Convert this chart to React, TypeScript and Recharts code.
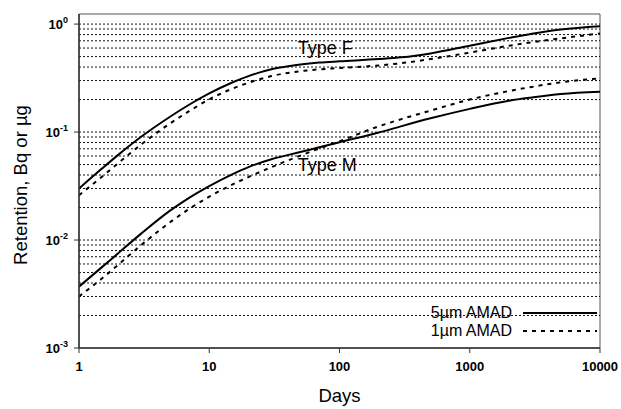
import {
  LineChart,
  Line,
  XAxis,
  YAxis,
  ReferenceLine,
  ReferenceArea,
  ReferenceDot,
  Legend,
  Label
} from "recharts"

const FONT = "'Liberation Sans', Arial, sans-serif"

// days after intake (log axis)
const days = [1, 1.5, 2, 3, 5, 7, 10, 15, 20, 30, 50, 70, 100, 200, 300, 500, 1000, 2000, 3000, 5000, 10000]

// retention
const typeF5um = [0.03, 0.0459, 0.0615, 0.0904, 0.1387, 0.179, 0.228, 0.288, 0.33, 0.381, 0.422, 0.44, 0.452, 0.474, 0.492, 0.535, 0.631, 0.745, 0.815, 0.893, 0.957]
const typeF1um = [0.026, 0.0386, 0.0515, 0.0766, 0.12, 0.156, 0.201, 0.252, 0.286, 0.33, 0.366, 0.381, 0.392, 0.414, 0.435, 0.474, 0.544, 0.63, 0.679, 0.738, 0.819]
const typeM5um = [0.0037, 0.00561, 0.00755, 0.01146, 0.0187, 0.0246, 0.0316, 0.0406, 0.0474, 0.056, 0.0653, 0.0723, 0.0805, 0.099, 0.1135, 0.134, 0.164, 0.195, 0.209, 0.225, 0.236]
const typeM1um = [0.003, 0.0044, 0.00591, 0.00897, 0.0146, 0.0194, 0.0252, 0.0326, 0.0383, 0.0473, 0.0605, 0.0705, 0.0822, 0.113, 0.132, 0.158, 0.2, 0.24, 0.262, 0.289, 0.314]

const xTicks = [1, 10, 100, 1000, 10000]
const yTicks = [0.001, 0.01, 0.1, 1]
const gridDecades = [0.001, 0.01, 0.1]
const gridSteps = [1, 2, 3, 4, 5, 6, 7, 8, 9]

const legendNames = ["5µm AMAD", "1µm AMAD"]
const annotations = [
  { text: "Type F", day: 47, value: 0.61 },
  { text: "Type M", day: 47, value: 0.0495 },
]

const data = days.map((d, i) => ({
  day: d,
  f5: typeF5um[i],
  f1: typeF1um[i],
  m5: typeM5um[i],
  m1: typeM1um[i],
}))

// dotted lines at every 1..9 x 10^k, plus the 10^0 line
const gridValues = gridDecades
  .flatMap((dec) => gridSteps.map((s) => +(s * dec).toPrecision(2)))
  .filter((v) => v > 0.001)
  .concat([1])

const PowerTick = ({ x, y, payload }: any) => {
  const exp = Math.round(Math.log10(payload.value))
  return (
    <text x={x - 4} y={y} dy={5} textAnchor="end" fontFamily={FONT} fontWeight="bold" fontSize={13} fill="#000">
      10
      <tspan dy={-6} fontSize={9}>{exp}</tspan>
    </text>
  )
}

// only the two Type F series carry a legend entry (solid / dashed)
const renderLegend = ({ payload }: any) => {
  const items = legendNames
    .map((n) => (payload || []).find((p: any) => p.value === n))
    .filter(Boolean)
  return (
    <div style={{ fontFamily: FONT, fontSize: 16, color: "#000" }}>
      {items.map((entry: any) => (
        <div key={entry.value} style={{ display: "flex", alignItems: "center", height: 18 }}>
          <span style={{ width: 112, textAlign: "right", lineHeight: "18px" }}>{entry.value}</span>
          <svg width={74} height={18} style={{ marginLeft: 11 }}>
            <line
              x1={0}
              y1={9}
              x2={74}
              y2={9}
              stroke="#000"
              strokeWidth={2}
              strokeDasharray={entry.value === legendNames[1] ? "4 5" : undefined}
            />
          </svg>
        </div>
      ))}
    </div>
  )
}

export default function App() {
  return (
    <div style={{ position: "absolute", left: 0, top: 0, background: "#fff" }}>
      <LineChart width={621} height={409} data={data} margin={{ top: 14, right: 21, bottom: 0, left: 0 }}>
        <XAxis
          dataKey="day"
          type="number"
          scale="log"
          domain={[1, 10000]}
          ticks={xTicks}
          allowDataOverflow
          height={61}
          tickSize={5}
          tickMargin={9}
          tick={{ fill: "#000", fontSize: 13, fontWeight: "bold", fontFamily: FONT }}
          axisLine={{ stroke: "#333", strokeWidth: 1.5 }}
          tickLine={{ stroke: "#333" }}
        >
          <Label value="Days" position="insideBottom" offset={7} fill="#000" fontSize={18.5} fontFamily={FONT} />
        </XAxis>
        <YAxis
          type="number"
          scale="log"
          domain={[0.001, 1.24]}
          ticks={yTicks}
          allowDataOverflow
          width={79}
          tickSize={5}
          tick={<PowerTick />}
          axisLine={{ stroke: "#333", strokeWidth: 1.5 }}
          tickLine={{ stroke: "#333" }}
        >
          <Label
            content={({ viewBox }: any) => {
              const cx = viewBox.x + 20
              const cy = viewBox.y + viewBox.height / 2 + 4
              return (
                <text
                  x={cx}
                  y={cy}
                  transform={`rotate(-90, ${cx}, ${cy})`}
                  textAnchor="middle"
                  dominantBaseline="central"
                  fontFamily={FONT}
                  fontSize={18.5}
                  fill="#000"
                >
                  Retention, Bq or µg
                </text>
              )
            }}
          />
        </YAxis>
        {gridValues.map((v) => (
          <ReferenceLine key={v} y={v} stroke="#111" strokeWidth={1} strokeDasharray="2 2" />
        ))}
        <ReferenceArea x1={1} x2={10000} y1={0.001} y2={1.24} fill="none" stroke="#555" strokeWidth={1} />
        {annotations.map((a) => (
          <ReferenceDot
            key={a.text}
            x={a.day}
            y={a.value}
            r={1}
            fill="none"
            stroke="none"
            label={{ value: a.text, position: "right", offset: 0, fill: "#000", fontSize: 18, fontFamily: FONT }}
          />
        ))}
        <Line type="monotone" dataKey="f5" name={legendNames[0]} stroke="#000" strokeWidth={2} dot={false} isAnimationActive={false} />
        <Line type="monotone" dataKey="f1" name={legendNames[1]} stroke="#000" strokeWidth={2} strokeDasharray="4 5" dot={false} isAnimationActive={false} />
        <Line type="monotone" dataKey="m5" name="m5" legendType="none" stroke="#000" strokeWidth={2} dot={false} isAnimationActive={false} />
        <Line type="monotone" dataKey="m1" name="m1" legendType="none" stroke="#000" strokeWidth={2} strokeDasharray="4 5" dot={false} isAnimationActive={false} />
        <Legend
          layout="vertical"
          align="center"
          verticalAlign="middle"
          content={renderLegend}
          wrapperStyle={{ left: 400, top: 304, width: 200 }}
        />
      </LineChart>
    </div>
  )
}
